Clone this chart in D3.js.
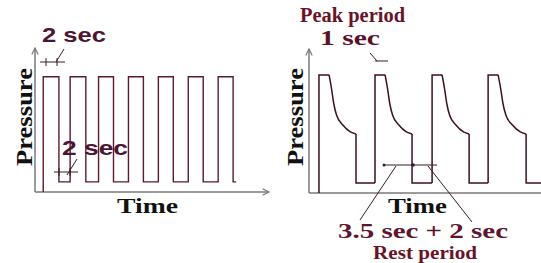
<!DOCTYPE html>
<html>
<head>
<meta charset="utf-8">
<script src="https://cdn.jsdelivr.net/npm/d3@7"></script>
<style>
  body { margin: 0; background: #fff; }
  svg { display: block; }
</style>
</head>
<body>
<div id="vis"></div>
<script>
var width = 541,
    height = 263;

// left chart: square wave, times of each edge (sec-ish units) and levels
var leftEdges = [1.1, 3.2, 4.7, 6.8, 8.5, 10.5, 12.5, 14.5, 16.5, 18.5, 20.5, 22.5, 24.5, 26.5];
var leftEnd = 26.9;
var leftHigh = 80,
    leftLow = 7;

// right chart: each cycle = rise, flat top, decay, drop, rest
var rightRise = [1.14, 7.54, 14.06, 20.46];
var rightTopEnd = [2.29, 8.69, 15.2, 21.6];
var rightDrop = [5.37, 11.77, 18.29, 24.8];
var rightEnd = 26.5;
var rightHigh = 82,
    rightLow = 7;
// decay shape: [fraction of decay span, pressure]
var decayShape = [[0, 82], [0.1, 71.5], [0.17, 62.5], [0.28, 54], [0.52, 47], [0.79, 42.4], [1, 41]];

var lineCol = "#3f0f22",
    axisCol = "#7a7a7a";

var svg = d3.select("#vis").append("svg")
    .attr("width", width)
    .attr("height", height);

var defs = svg.append("defs");
defs.append("marker")
    .attr("id", "arrow")
    .attr("viewBox", "0 0 10 10")
    .attr("refX", 9)
    .attr("refY", 5)
    .attr("markerWidth", 8)
    .attr("markerHeight", 8)
    .attr("markerUnits", "userSpaceOnUse")
    .attr("orient", "auto")
  .append("path")
    .attr("d", "M1,1 L9,5 L1,9")
    .attr("fill", "none")
    .attr("stroke", axisCol)
    .attr("stroke-width", 1.5);

// scales
var xL = d3.scaleLinear().domain([0, 31.3]).range([35, 269]);
var yL = d3.scaleLinear().domain([0, 100]).range([192, 48]);
var xR = d3.scaleLinear().domain([0, 26.5]).range([309, 541]);
var yR = d3.scaleLinear().domain([0, 100]).range([193, 49]);

function drawAxes(x, y, arrowX) {
    var g = svg.append("g");
    g.append("line")
        .attr("x1", x.range()[0]).attr("y1", y(0))
        .attr("x2", x.range()[1]).attr("y2", y(0))
        .attr("stroke", axisCol).attr("stroke-width", 1.5)
        .attr("marker-end", arrowX ? "url(#arrow)" : null);
    g.append("line")
        .attr("x1", x(0)).attr("y1", y(0))
        .attr("x2", x(0)).attr("y2", y.range()[1])
        .attr("stroke", axisCol).attr("stroke-width", 1.5)
        .attr("marker-end", "url(#arrow)");
}
drawAxes(xL, yL, true);
drawAxes(xR, yR, false);

var line = d3.line();

// left square wave
var leftPts = [[leftEdges[0], 0]];
leftEdges.forEach(function(t, i) {
    var before = i == 0 ? 0 : (i % 2 == 1 ? leftHigh : leftLow);
    var after = i % 2 == 0 ? leftHigh : leftLow;
    leftPts.push([t, before]);
    leftPts.push([t, after]);
});
leftPts.push([leftEnd, leftLow]);

svg.append("path")
    .attr("d", line(leftPts.map(function(d) { return [xL(d[0]), yL(d[1])]; })))
    .attr("fill", "none")
    .attr("stroke", "#5a1a30")
    .attr("stroke-width", 1.4);

// right waveform
var smooth = d3.line().curve(d3.curveMonotoneX);
rightRise.forEach(function(r, i) {
    var te = rightTopEnd[i], dr = rightDrop[i];
    var next = i < rightRise.length - 1 ? rightRise[i + 1] : rightEnd;
    var pts = [[r, i == 0 ? 0 : rightLow], [r, rightHigh], [te, rightHigh]];
    svg.append("path")
        .attr("d", line(pts.map(function(d) { return [xR(d[0]), yR(d[1])]; })))
        .attr("fill", "none").attr("stroke", lineCol).attr("stroke-width", 1.5);
    var decay = decayShape.map(function(d) { return [xR(te + d[0] * (dr - te)), yR(d[1])]; });
    svg.append("path")
        .attr("d", smooth(decay))
        .attr("fill", "none").attr("stroke", lineCol).attr("stroke-width", 1.5);
    var rest = [[dr, decayShape[decayShape.length - 1][1]], [dr, rightLow], [next, rightLow]];
    svg.append("path")
        .attr("d", line(rest.map(function(d) { return [xR(d[0]), yR(d[1])]; })))
        .attr("fill", "none").attr("stroke", lineCol).attr("stroke-width", 1.5);
});

// annotation helper lines
function seg(x1, y1, x2, y2, w) {
    svg.append("line")
        .attr("x1", x1).attr("y1", y1).attr("x2", x2).attr("y2", y2)
        .attr("stroke", "#3a1a25").attr("stroke-width", w || 1);
}
// left top "2 sec"
seg(40, 62, 65, 62);
seg(46, 58, 46, 66);
seg(57, 58, 57, 66);
seg(56, 62, 64, 49);
// left bottom "2 sec"
seg(54, 172, 78, 172);
seg(59, 168, 59, 176);
seg(70, 168, 70, 176);
seg(67, 175, 77, 159);
// right "1 sec"
seg(375, 61, 388, 61);
seg(370, 53, 377, 61);
// right "3.5 sec + 2 sec"
seg(383, 165, 437, 165);
svg.append("circle").attr("cx", 384).attr("cy", 165).attr("r", 1.5).attr("fill", "#3a1a25");
svg.append("circle").attr("cx", 413).attr("cy", 165).attr("r", 1.8).attr("fill", "#3a1a25");
seg(396, 166, 360, 220);
seg(428, 166, 472, 222);

// texts
function txt(s, x, y, opts) {
    var t = svg.append("text")
        .attr("x", x).attr("y", y)
        .attr("font-family", opts.family || "'Liberation Serif', serif")
        .attr("font-weight", opts.weight || "bold")
        .attr("font-size", opts.size + "px")
        .attr("fill", opts.fill || "#111")
        .attr("text-anchor", opts.anchor || "start")
        .text(s);
    if (opts.len) t.attr("textLength", opts.len).attr("lengthAdjust", "spacingAndGlyphs");
    if (opts.rotate) t.attr("transform", "rotate(-90," + x + "," + y + ")");
    return t;
}

txt("2 sec", 42, 42, {family: "'Liberation Sans', Arial, sans-serif", weight: "bold", size: 21, fill: "#4e1530", len: 64});
txt("2 sec", 62, 155, {family: "'Liberation Sans', Arial, sans-serif", weight: "bold", size: 21, fill: "#4e1530", len: 66});
txt("Pressure", 32, 117, {size: 24, anchor: "middle", rotate: true, len: 98});
txt("Time", 117, 213, {size: 22, len: 61});

txt("Peak period", 300, 22, {size: 20, fill: "#6a1227", len: 105});
txt("1 sec", 320, 45, {size: 20, fill: "#5a1228", len: 60});
txt("Pressure", 303, 117, {size: 24, anchor: "middle", rotate: true, len: 98});
txt("Time", 388, 213, {size: 22, len: 59});
txt("3.5 sec + 2 sec", 338, 238, {size: 22, fill: "#5e1530", len: 170});
txt("Rest period", 373, 259, {size: 19, fill: "#6a1227", len: 104});
</script>
</body>
</html>
